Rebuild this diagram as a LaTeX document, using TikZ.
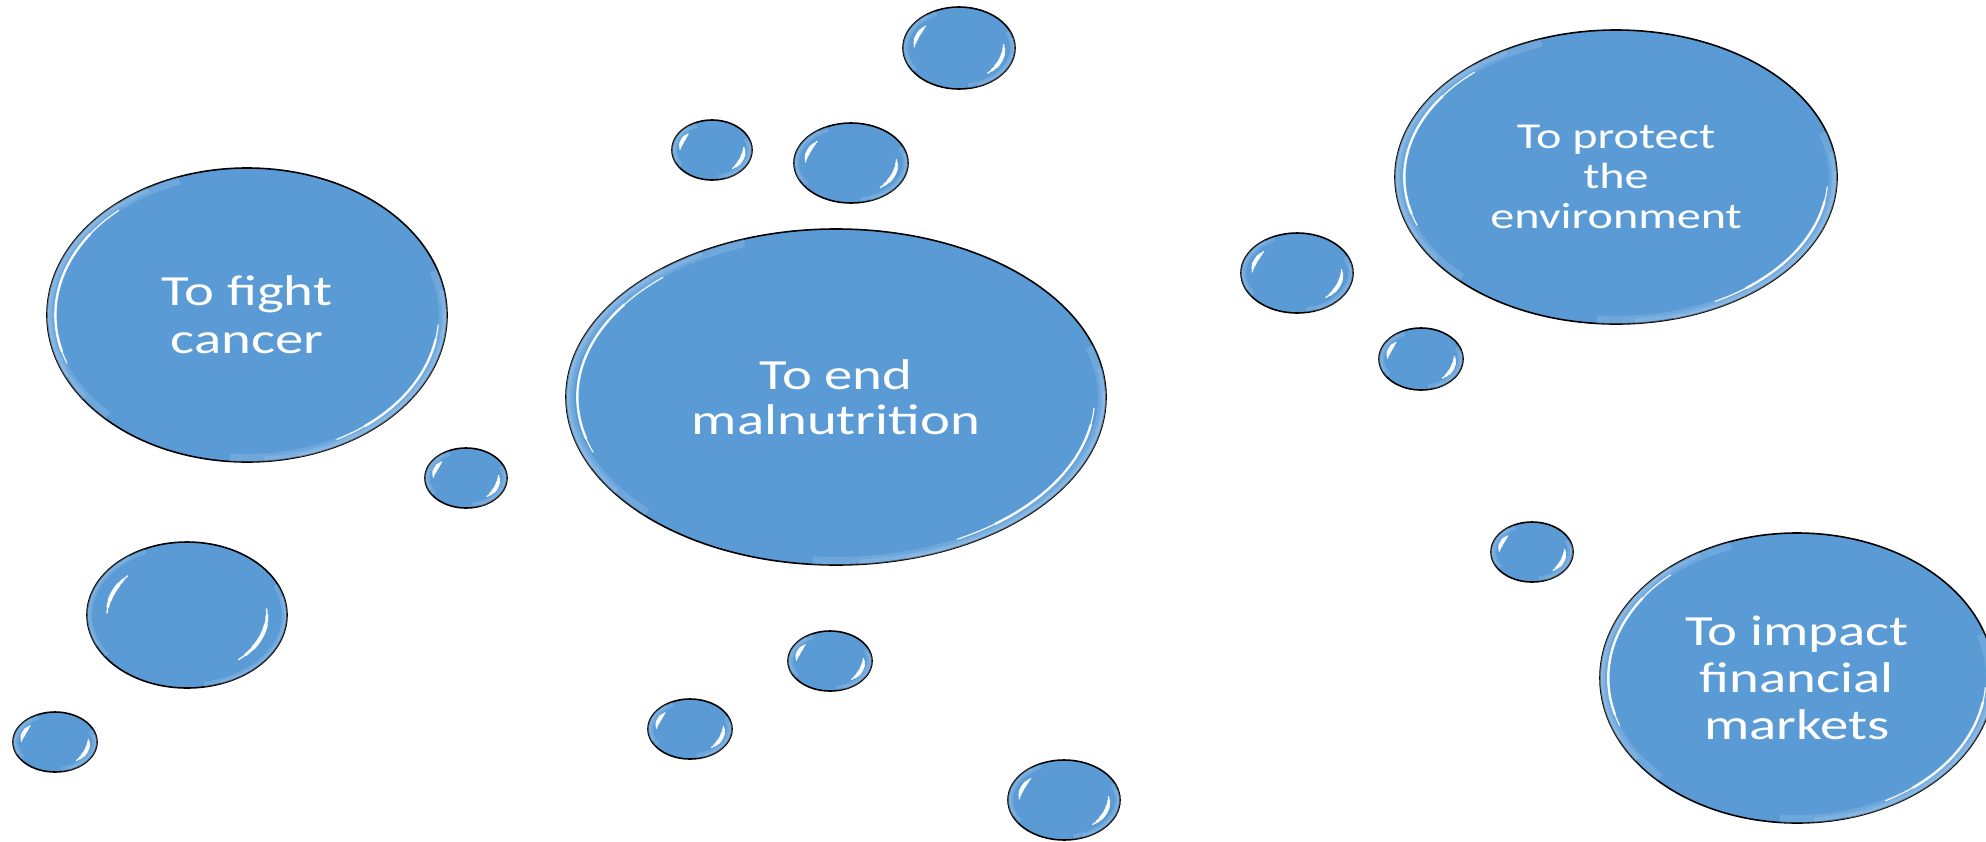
\documentclass[tikz,border=0pt]{standalone}
\usepackage{fontspec}
\newfontfamily\bfont[FakeStretch=1.32]{Carlito}
\usetikzlibrary{shapes.geometric}
\definecolor{bfill}{HTML}{5B9BD5}
\definecolor{brim}{HTML}{B4D6F5}
\tikzset{
  bubble/.style={ellipse, draw=black, line width=1.6pt, fill=bfill, inner sep=0pt,
                 text=white, align=center},
  glow/.style={brim, line width=#1, opacity=0.22},
  shine/.style={white, line width=#1, opacity=0.92, line cap=round},
}
% arc helper: node, angle1, angle2, rx-factor*rx, ry-factor*ry
\newcommand{\rimarc}[6]{%
  \draw[#1] (#2.center) ++(#3:{#5} and {#6})
     arc[start angle=#3, end angle=#4, x radius={#5}, y radius={#6}];}
% name, x, y, rx, ry, font, text
\newcommand{\bigbub}[7]{%
  \node[bubble, minimum width={2*#4pt}, minimum height={2*#5pt}, font=\bfont#6] (#1) at (#2,-#3) {#7};
  \begin{scope}
    \clip (#1.center) ellipse [x radius=#4, y radius=#5];
    \rimarc{glow=16pt}{#1}{110}{225}{#4}{#5}
    \rimarc{glow=10pt}{#1}{120}{215}{#4}{#5}
    \rimarc{glow=6pt}{#1}{130}{205}{#4}{#5}
    \rimarc{glow=16pt}{#1}{-95}{18}{#4}{#5}
    \rimarc{glow=10pt}{#1}{-85}{10}{#4}{#5}
    \rimarc{glow=6pt}{#1}{-75}{2}{#4}{#5}
  \end{scope}
  \rimarc{shine=1.2pt}{#1}{132}{200}{0.958*#4}{0.958*#5}
  \rimarc{shine=2.4pt}{#1}{145}{195}{0.958*#4}{0.958*#5}
  \rimarc{shine=1.2pt}{#1}{-62}{-4}{0.958*#4}{0.958*#5}
  \rimarc{shine=2.4pt}{#1}{-52}{-10}{0.958*#4}{0.958*#5}
}
% name, x, y, rx, ry
\newcommand{\smallbub}[5]{%
  \node[bubble, minimum width={2*#4pt}, minimum height={2*#5pt}] (#1) at (#2,-#3) {};
  \begin{scope}
    \clip (#1.center) ellipse [x radius=#4, y radius=#5];
    \rimarc{glow=10pt}{#1}{115}{215}{#4}{#5}
    \rimarc{glow=6pt}{#1}{125}{205}{#4}{#5}
    \rimarc{glow=10pt}{#1}{-80}{25}{#4}{#5}
    \rimarc{glow=6pt}{#1}{-70}{15}{#4}{#5}
  \end{scope}
  \rimarc{shine=1.4pt}{#1}{138}{178}{0.8*#4}{0.8*#5}
  \rimarc{shine=2.8pt}{#1}{143}{172}{0.8*#4}{0.8*#5}
  \rimarc{shine=4pt}{#1}{149}{165}{0.8*#4}{0.8*#5}
  \rimarc{shine=1.4pt}{#1}{-50}{6}{0.8*#4}{0.8*#5}
  \rimarc{shine=2.8pt}{#1}{-43}{0}{0.8*#4}{0.8*#5}
  \rimarc{shine=4pt}{#1}{-34}{-10}{0.8*#4}{0.8*#5}
}
\begin{document}
\begin{tikzpicture}[x=1pt, y=1pt]
  \clip (0,0) rectangle (1986,-841);
  \fill[white] (0,0) rectangle (1986,-841);
  % large bubbles
  \bigbub{cancer}{247}{315}{200}{147}{\fontsize{43}{48}\selectfont}{To fight\\cancer}
  \bigbub{malnut}{836}{397}{270}{168}{\fontsize{43}{45}\selectfont}{To end\\malnutrition}
  \bigbub{environ}{1616}{177}{221}{147}{\fontsize{36.5}{40}\selectfont}{To protect\\the\\environment}
  \bigbub{finance}{1797}{678}{197}{145}{\fontsize{43}{47}\selectfont}{To impact\\financial\\markets}
  % small bubbles
  \smallbub{s1}{959}{48}{56}{41}
  \smallbub{s2}{712}{150}{40}{30}
  \smallbub{s3}{851}{163}{57}{40}
  \smallbub{s4}{466}{478}{41}{30}
  \smallbub{s5}{187}{615}{100}{73}
  \smallbub{s6}{55}{742}{42}{30}
  \smallbub{s7}{830}{661}{42}{30}
  \smallbub{s8}{690}{729}{42}{30}
  \smallbub{s9}{1064}{800}{56}{40}
  \smallbub{s10}{1297}{273}{56}{40}
  \smallbub{s11}{1421}{359}{42}{31}
  \smallbub{s12}{1532}{552}{41}{30}
\end{tikzpicture}
\end{document}
